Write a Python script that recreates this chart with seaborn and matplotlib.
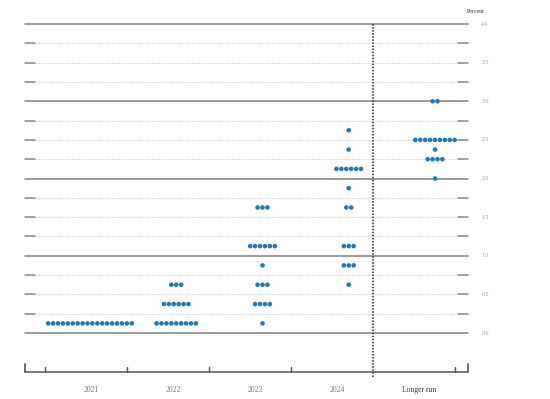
import numpy as np
import pandas as pd
import matplotlib
matplotlib.use("Agg")
import matplotlib.pyplot as plt
import seaborn as sns

# Dot plot data: midpoint of target range and number of participants
years = ["2021", "2022", "2023", "2024", "Longer run"]
rates_2021 = [0.125]
counts_2021 = [18]
rates_2022 = [0.125, 0.375, 0.625]
counts_2022 = [9, 6, 3]
rates_2023 = [0.125, 0.375, 0.625, 0.875, 1.125, 1.625]
counts_2023 = [1, 4, 3, 1, 6, 3]
rates_2024 = [0.625, 0.875, 1.125, 1.625, 1.875, 2.125, 2.375, 2.625]
counts_2024 = [1, 3, 3, 2, 1, 6, 1, 1]
rates_lr = [2.0, 2.25, 2.375, 2.5, 3.0]
counts_lr = [1, 4, 1, 9, 2]
y_labels = ["0.0", "0.5", "1.0", "1.5", "2.0", "2.5", "3.0", "3.5", "4.0"]

columns = [(rates_2021, counts_2021), (rates_2022, counts_2022),
           (rates_2023, counts_2023), (rates_2024, counts_2024),
           (rates_lr, counts_lr)]

# spread the dots horizontally around each column centre
spacing = 0.057
rows = []
for i, (rates, counts) in enumerate(columns):
    for r, n in zip(rates, counts):
        for k in range(n):
            rows.append({"x": i + (k - (n - 1) / 2) * spacing, "rate": r, "year": years[i]})
df = pd.DataFrame(rows)

sns.set_style("white")
fig = plt.figure(figsize=(5.5, 3.99), dpi=100)
ax = fig.add_axes([0, 0, 1, 1])

x0, x1 = -0.754, 4.383
cap = 0.116
for v in np.arange(0, 4.01, 0.25):
    if v % 1 == 0:
        ax.plot([x0, x1], [v, v], color="#7f7f7f", lw=1.1, zorder=1)
    else:
        ax.plot([x0, x1], [v, v], color="#cfcfcf", lw=0.8, ls=(0, (1, 1)), zorder=1)
        ax.plot([x0, x0 + cap], [v, v], color="#8a8a8a", lw=1.1, zorder=1)
        ax.plot([x1 - cap, x1], [v, v], color="#8a8a8a", lw=1.1, zorder=1)

for j, lab in enumerate(y_labels):
    ax.text(4.58, j * 0.5, lab, fontsize=4.2, color="#999999", va="center", ha="center",
            family="Liberation Serif")
ax.text(4.58, 4.16, "Percent", fontsize=4.2, color="#333333", va="center", ha="right",
        family="Liberation Serif")

# vertical divider before longer run
ax.plot([3.281, 3.281], [4.0, -0.58], color="#222222", lw=1.1, ls=(0, (1, 1)), zorder=2)

# bottom bracket axis
yb = -0.505
ax.plot([x0, x1], [yb, yb], color="#555555", lw=1.1)
ax.plot([x0, x0], [yb, yb + 0.11], color="#555555", lw=1.2)
ax.plot([x1, x1], [yb, yb + 0.11], color="#555555", lw=1.2)
ticks = [-0.522 + 0.951 * k for k in range(6)]
for t in ticks:
    if abs(t - 3.281) > 0.05:
        ax.plot([t, t], [yb, yb + 0.07], color="#555555", lw=1.0)
for k, lab in enumerate(years):
    mid = (ticks[k] + ticks[k + 1]) / 2 + 0.06
    ax.text(mid, -0.74, lab, fontsize=5.5, ha="center", va="center",
            color="#333333" if k == 4 else "#777777", family="Liberation Serif")

sns.scatterplot(data=df, x="x", y="rate", ax=ax, color="#2379b5", s=11,
                edgecolor="none", legend=False, zorder=3)
ax.set_xlim(-1.043, 5.333)
ax.set_ylim(-0.854, 4.311)
ax.axis("off")

fig.savefig("out.png", dpi=100)
